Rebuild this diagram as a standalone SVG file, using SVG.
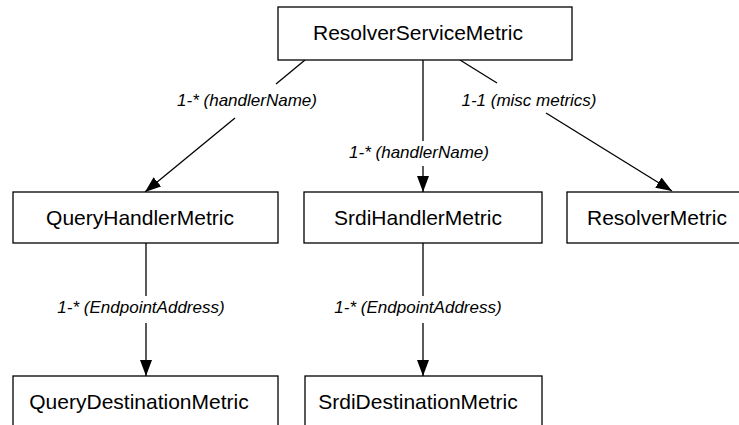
<svg xmlns="http://www.w3.org/2000/svg" width="739" height="425" viewBox="0 0 739 425">
<style>
.box{fill:#fff;stroke:#000;stroke-width:1.3}
.nt{font-family:"Liberation Sans",Arial,sans-serif;font-size:21px;fill:#000;text-anchor:middle}
.lb{font-family:"Liberation Sans",Arial,sans-serif;font-size:17px;font-style:italic;fill:#000;text-anchor:middle}
.ln{stroke:#000;stroke-width:1.3;fill:none}
</style>
<defs>
<marker id="ah" markerUnits="userSpaceOnUse" markerWidth="18" markerHeight="14" refX="16" refY="6" orient="auto">
<path d="M0,0 L16,6 L0,12 z" fill="#000"/>
</marker>
</defs>
<rect width="739" height="425" fill="#fff"/>
<g id="connectors">
<path class="ln" d="M305,60 L276,84"/>
<path class="ln" d="M235,118 L145,192" marker-end="url(#ah)"/>
<text class="lb" x="247" y="106">1-* (handlerName)</text>
<path class="ln" d="M423,60 L423,141"/>
<path class="ln" d="M423,166 L423,192" marker-end="url(#ah)"/>
<text class="lb" x="419" y="158">1-* (handlerName)</text>
<path class="ln" d="M460,60 L497,83"/>
<path class="ln" d="M546,113 L672,191" marker-end="url(#ah)"/>
<text class="lb" x="529" y="106">1-1 (misc metrics)</text>
<path class="ln" d="M146,243 L146,296"/>
<path class="ln" d="M146,323 L146,376" marker-end="url(#ah)"/>
<text class="lb" x="141" y="313">1-* (EndpointAddress)</text>
<path class="ln" d="M423,243 L423,296"/>
<path class="ln" d="M423,323 L423,376" marker-end="url(#ah)"/>
<text class="lb" x="418" y="313">1-* (EndpointAddress)</text>
</g>
<g id="ResolverServiceMetric">
<rect class="box" x="278" y="7" width="294" height="53"/>
<text class="nt" x="418" y="40">ResolverServiceMetric</text>
</g>
<g id="QueryHandlerMetric">
<rect class="box" x="13" y="192" width="265" height="51"/>
<text class="nt" x="140" y="225">QueryHandlerMetric</text>
</g>
<g id="SrdiHandlerMetric">
<rect class="box" x="304" y="192" width="238" height="51"/>
<text class="nt" x="418" y="225">SrdiHandlerMetric</text>
</g>
<g id="ResolverMetric">
<rect class="box" x="567" y="192" width="190" height="51"/>
<text class="nt" x="657" y="225">ResolverMetric</text>
</g>
<g id="QueryDestinationMetric">
<rect class="box" x="13" y="376" width="265" height="60"/>
<text class="nt" x="139" y="409">QueryDestinationMetric</text>
</g>
<g id="SrdiDestinationMetric">
<rect class="box" x="305" y="376" width="237" height="60"/>
<text class="nt" x="418" y="409">SrdiDestinationMetric</text>
</g>
</svg>
